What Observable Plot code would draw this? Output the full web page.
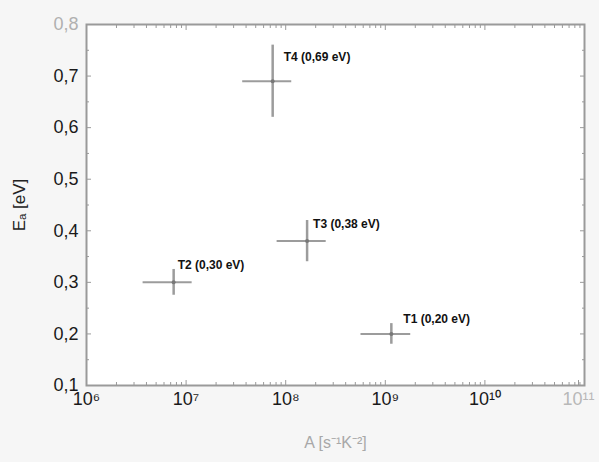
<!DOCTYPE html>
<html>
<head>
<meta charset="utf-8">
<script src="https://cdn.jsdelivr.net/npm/d3@7"></script>
<script src="https://cdn.jsdelivr.net/npm/@observablehq/plot@0.6"></script>
<style>
  html, body { margin: 0; padding: 0; background: #f6f6f6; }
  #chart svg { display: block; background: #f6f6f6; }
</style>
</head>
<body>
<div id="chart"></div>
<script>
// Trap levels: activation energy Ea [eV] vs. capture prefactor A [s^-1 K^-2]
const trapNames   = ["T1", "T2", "T3", "T4"];
const energy      = [0.20, 0.30, 0.38, 0.69];
const energyErr   = [0.02, 0.025, 0.04, 0.07];
const prefactor   = [1.15e9, 7.5e6, 1.64e8, 7.4e7];
const prefactorLo = [5.7e8, 3.7e6, 8.2e7, 3.7e7];
const prefactorHi = [1.8e9, 1.15e7, 2.55e8, 1.15e8];

const yTicks      = [0.1, 0.2, 0.3, 0.4, 0.5, 0.6, 0.7, 0.8];
const yMinorTicks = [0.15, 0.25, 0.35, 0.45, 0.55, 0.65, 0.75];
const xTicks      = [1e6, 1e7, 1e8, 1e9, 1e10, 1e11];

const traps = trapNames.map((name, i) => ({
  name,
  E: energy[i],
  E1: energy[i] - energyErr[i],
  E2: energy[i] + energyErr[i],
  A: prefactor[i],
  A1: prefactorLo[i],
  A2: prefactorHi[i],
  label: `${name} (${energy[i].toFixed(2).replace(".", ",")} eV)`
}));

// logarithmic minor ticks 2..9 × 10^k
const xMinorTicks = [];
for (let k = 6; k < 11; ++k) for (let m = 2; m <= 9; ++m) xMinorTicks.push(m * 10 ** k);

const sup = {"0":"⁰","1":"¹","2":"²","3":"³","4":"⁴","5":"⁵","6":"⁶","7":"⁷","8":"⁸","9":"⁹"};
const powerLabel = d => "10" + String(Math.round(Math.log10(d))).split("").map(c => sup[c]).join("");
const commaFormat = d => d.toFixed(1).replace(".", ",");

// per-label nudges so the annotations sit up and to the right of each cross
const labelNudge = {T1: [12, -15], T2: [4, -17], T3: [6, -17], T4: [11, -24]};

const frameColor = "#9a9a9a";
const barColor = "#9c9c9c";

const xLabelStyle = {
  anchor: "bottom",
  tickSize: -5,
  tickPadding: 12,
  stroke: frameColor,
  tickFormat: powerLabel,
  fontSize: 18
};

const chart = Plot.plot({
  width: 599,
  height: 462,
  marginLeft: 86,
  marginRight: 15,
  marginTop: 24,
  marginBottom: 77,
  style: {fontFamily: "'Liberation Sans', Arial, sans-serif", background: "#f6f6f6"},
  x: {type: "log", domain: [1e6, 1e11]},
  y: {domain: [0.1, 0.8]},
  marks: [
    Plot.frame({fill: "white", stroke: "none"}),
    // inward minor and major ticks on all four sides
    Plot.axisY(yMinorTicks, {anchor: "left", tickSize: -3, tickFormat: () => "", stroke: frameColor}),
    Plot.axisY(yMinorTicks, {anchor: "right", tickSize: -3, tickFormat: () => "", stroke: frameColor}),
    Plot.axisY(yTicks, {anchor: "right", tickSize: -5, tickFormat: () => "", stroke: frameColor}),
    Plot.axisX(xMinorTicks, {anchor: "bottom", tickSize: -3, tickFormat: () => "", stroke: frameColor}),
    Plot.axisX(xMinorTicks, {anchor: "top", tickSize: -3, tickFormat: () => "", stroke: frameColor}),
    Plot.axisX(xTicks, {anchor: "top", tickSize: -5, tickFormat: () => "", stroke: frameColor}),
    Plot.axisY(yTicks, {
      anchor: "left",
      tickSize: -5,
      tickPadding: 13,
      stroke: frameColor,
      tickFormat: commaFormat,
      fontSize: 18,
      fill: d => (d === 0.8 ? "#b0b0b0" : "#1a1a1a"),
      label: "Eₐ [eV]",
      labelAnchor: "center",
      labelArrow: "none",
      labelOffset: 74
    }),
    Plot.axisX(xTicks.slice(0, -1), {
      ...xLabelStyle,
      fill: "#1a1a1a",
      label: "A [s⁻¹K⁻²]",
      labelAnchor: "center",
      labelArrow: "none",
      labelOffset: 62
    }),
    // last decade label: faint, pulled in from the right edge
    Plot.axisX(xTicks.slice(-1), {...xLabelStyle, fill: "#b8b8b8", dx: -6, label: null}),
    Plot.frame({stroke: frameColor, strokeWidth: 2}),
    // error bars
    Plot.ruleY(traps, {y: "E", x1: "A1", x2: "A2", stroke: barColor, strokeWidth: 2}),
    Plot.ruleX(traps, {x: "A", y1: "E1", y2: "E2", stroke: barColor, strokeWidth: 2.5}),
    Plot.dot(traps, {x: "A", y: "E", r: 2, fill: "#777", stroke: "none"}),
    // annotations
    ...traps.map(t => Plot.text([t], {
      x: "A", y: "E", text: "label",
      dx: labelNudge[t.name][0], dy: labelNudge[t.name][1],
      textAnchor: "start", fontSize: 12, fontWeight: "bold", fill: "#111"
    }))
  ]
});

// axis title colours and sizes: y title dark, x title faint gray
chart.querySelectorAll("[aria-label='y-axis label'] text").forEach(t => { t.setAttribute("fill", "#222"); t.setAttribute("font-size", "17"); });
chart.querySelectorAll("[aria-label='x-axis label'] text").forEach(t => { t.setAttribute("fill", "#a8a8a8"); t.setAttribute("font-size", "16"); });

document.getElementById("chart").appendChild(chart);
</script>
</body>
</html>
